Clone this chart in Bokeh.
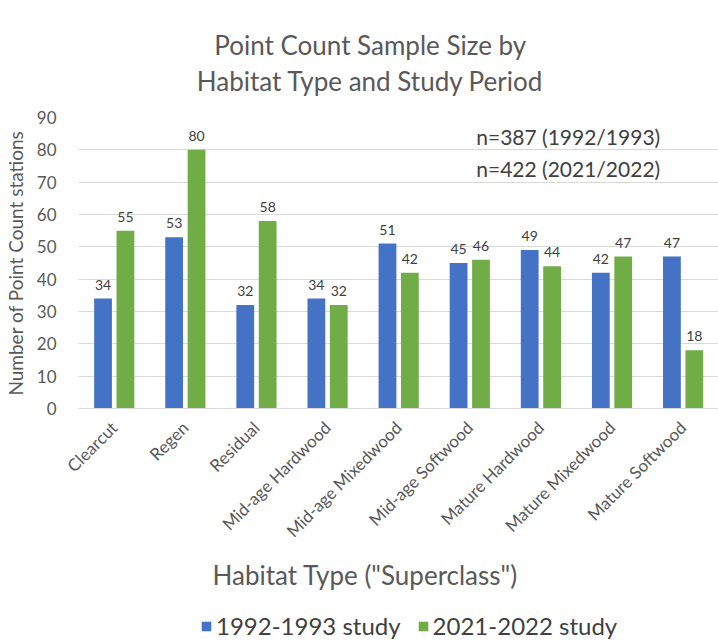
import math
from bokeh.plotting import figure
from bokeh.layouts import column
from bokeh.models import ColumnDataSource, FactorRange, Range1d, Title, Legend, LegendItem, Label, LabelSet
from bokeh.core.properties import value
from bokeh.transform import dodge
from bokeh.embed import file_html
from bokeh.resources import INLINE

# Point count stations per habitat superclass, two study periods
habitats = ["Clearcut", "Regen", "Residual", "Mid-age Hardwood", "Mid-age Mixedwood",
            "Mid-age Softwood", "Mature Hardwood", "Mature Mixedwood", "Mature Softwood"]
study_1992 = [34, 53, 32, 34, 51, 45, 49, 42, 47]
study_2021 = [55, 80, 58, 32, 42, 46, 44, 47, 18]
series_names = ["1992-1993 study", "2021-2022 study"]
y_ticks = [0, 10, 20, 30, 40, 50, 60, 70, 80, 90]
totals_text = ["n=387 (1992/1993)", "n=422 (2021/2022)"]
title_lines = ["Point Count Sample Size by", "Habitat Type and Study Period"]

FONT = "Lato"
GREY = "#595959"
DARK = "#404040"
BLUE = "#4472C4"
GREEN = "#70AD47"
OFFSETS = [-0.155, 0.16]

src = ColumnDataSource(dict(
    hab=habitats,
    a=study_1992,
    b=study_2021,
    a_txt=[str(v) for v in study_1992],
    b_txt=[str(v) for v in study_2021],
))
x_range = FactorRange(*habitats, range_padding=0)


def bare(fig):
    fig.title = None
    fig.outline_line_color = None
    fig.grid.visible = False
    fig.border_fill_color = "white"


# heading strip: frame spans 645 px so the x data units are pixels
hd = figure(width=718, height=100, x_range=Range1d(0, 645), y_range=Range1d(0, 100),
            output_backend="svg", toolbar_location=None, x_axis_type=None, y_axis_type=None,
            min_border_left=73, min_border_right=0, min_border_top=0, min_border_bottom=0)
bare(hd)
for line, y in zip(title_lines, (56, 20)):
    hd.add_layout(Label(x=294, y=y, text=line, text_align="center", text_baseline="middle",
                        text_font=FONT, text_font_size="26px", text_color=GREY))

# main bar chart
p = figure(width=718, height=498, x_range=x_range, y_range=Range1d(0, 90),
           output_backend="svg", toolbar_location=None,
           min_border_left=73, min_border_right=0, min_border_top=17, min_border_bottom=190)
p.title = None
p.outline_line_color = None
p.background_fill_color = "white"
p.border_fill_color = "white"

for col, color, off in (("a", BLUE, OFFSETS[0]), ("b", GREEN, OFFSETS[1])):
    p.vbar(x=dodge("hab", off, range=x_range), top=col, width=0.25, source=src,
           fill_color=color, line_color=None)
    p.add_layout(LabelSet(x=dodge("hab", off, range=x_range), y=col, text=col + "_txt",
                          source=src, y_offset=9, text_align="center", text_baseline="bottom",
                          text_font=value(FONT), text_font_size="14px", text_color=DARK))

p.yaxis.ticker = y_ticks
p.yaxis.axis_line_color = None
p.yaxis.major_tick_line_color = None
p.yaxis.minor_tick_line_color = None
p.yaxis.major_label_text_font = FONT
p.yaxis.major_label_text_font_size = "17px"
p.yaxis.major_label_text_color = GREY
p.yaxis.major_label_standoff = 16
p.yaxis.axis_label = "Number of Point Count stations"
p.yaxis.axis_label_text_font = FONT
p.yaxis.axis_label_text_font_size = "19px"
p.yaxis.axis_label_text_font_style = "normal"
p.yaxis.axis_label_text_color = GREY
p.yaxis.axis_label_standoff = 7

p.xaxis.axis_line_color = "#d9d9d9"
p.xaxis.major_tick_line_color = None
p.xaxis.minor_tick_line_color = None
p.xaxis.major_label_orientation = math.pi / 4
p.xaxis.major_label_text_font = FONT
p.xaxis.major_label_text_font_size = "17px"
p.xaxis.major_label_text_color = GREY
p.xaxis.major_label_standoff = 10

p.xgrid.grid_line_color = None
p.ygrid.grid_line_color = "#d9d9d9"
p.ygrid.grid_line_width = 1

# x axis title
p.add_layout(Title(text='Habitat Type ("Superclass")', align="left", text_font=FONT,
                   text_font_size="26px", text_font_style="normal", text_color=GREY,
                   offset=134, standoff=10), "below")

# totals annotation
for txt, y in zip(totals_text, (84.0, 74.3)):
    p.add_layout(Label(x=8.18, y=y, text=txt, text_align="right", text_baseline="middle",
                       text_font=FONT, text_font_size="21px", text_color=DARK))

# legend strip: same bars, with the y window placed far above them so only the swatches show
lg = figure(width=718, height=42, x_range=x_range, y_range=Range1d(500, 501),
            output_backend="svg", toolbar_location=None, x_axis_type=None, y_axis_type=None,
            min_border_left=73, min_border_right=0, min_border_top=0, min_border_bottom=0)
bare(lg)
swatches = [lg.vbar(x=dodge("hab", off, range=x_range), top=col, width=0.25, source=src,
                    fill_color=color, line_color=None)
            for col, color, off in (("a", BLUE, OFFSETS[0]), ("b", GREEN, OFFSETS[1]))]
legend = Legend(items=[LegendItem(label=n, renderers=[r]) for n, r in zip(series_names, swatches)],
                orientation="horizontal", location=(122, 0),
                label_text_font=FONT, label_text_font_size="24px", label_text_color=DARK,
                glyph_width=12, glyph_height=12, label_standoff=4, spacing=16,
                border_line_color=None, background_fill_alpha=0, padding=0, margin=0)
lg.add_layout(legend)

open("out.html", "w").write(file_html(column(hd, p, lg, spacing=0), INLINE))
